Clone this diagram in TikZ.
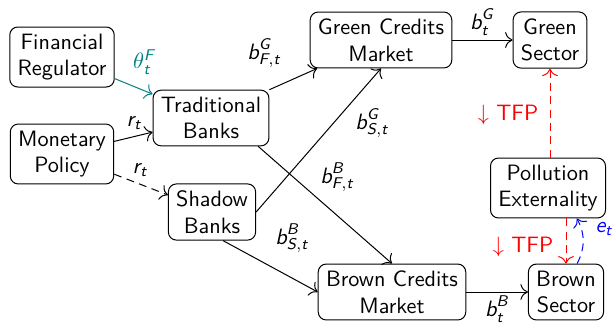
\documentclass[tikz,border=0pt]{standalone}
\usepackage{amsmath}
\usetikzlibrary{arrows.meta}
% sans-serif italic symbols for the flow labels
\newcommand{\sv}[1]{\textsf{\itshape #1}}
\begin{document}
\begin{tikzpicture}[x=0.45pt,y=-0.45pt,
  font=\sffamily,
  box/.style={draw, rounded corners=3.6pt, align=center, inner xsep=3.5pt, inner ysep=3pt, line width=0.45pt},
  arr/.style={line width=0.45pt, -{To[scale=1.3]}},
  dsh/.style={dash pattern=on 3.5pt off 2.5pt},
  lbl/.style={inner sep=0pt}]
\useasboundingbox (0,0) rectangle (613,323);

% actors and markets
\node[box] (FR)  at (62,57)   {Financial\\Regulator};
\node[box] (MP)  at (62,154)  {Monetary\\Policy};
\node[box] (TB)  at (211,118) {Traditional\\Banks};
\node[box] (SB)  at (212,212) {Shadow\\Banks};
\node[box] (GCM) at (381,40)  {Green Credits\\Market};
\node[box] (GS)  at (550,40)  {Green\\Sector};
\node[box] (PE)  at (548,188) {Pollution\\Externality};
\node[box] (BCM) at (392,292) {Brown Credits\\Market};
\node[box] (BS)  at (566,292) {Brown\\Sector};

% policy channels
\draw[arr, teal] (FR) -- (TB);
\draw[arr] (MP) -- (TB);
\draw[arr, dsh] (MP) -- (SB);

% credit flows
\draw[arr] (TB.north east) -- (GCM.204);
\draw[arr] (TB.-31) -- (BCM.north);
\draw[arr] (SB.east) -- (GCM.south);
\draw[arr] (SB.-69) -- (BCM.west);
\draw[arr] (GCM) -- (GS);
\draw[arr] (BCM) -- (BS);

% productivity effects of pollution
\draw[arr, red, dsh] (PE.north -| GS.south) -- (GS.south);
\draw[arr, red, dsh] (PE.south -| BS.north) -- (BS.north);
\draw[arr, blue, dsh] ([xshift=5pt]BS.north) to[bend right=28] ([xshift=13pt]PE.south);

% labels
\node[lbl, text=teal] (lTh) at (144,62) {$\theta^{\sv{F}}_{\sv{t}}$};
\node[lbl] (lr1) at (134,123) {$\sv{r}_{\sv{t}}$};
\node[lbl] (lr2) at (140,170) {$\sv{r}_{\sv{t}}$};
\node[lbl] (lGF) at (264,53)  {$\sv{b}^{\sv{G}}_{\sv{F},\sv{t}}$};
\node[lbl] (lGS) at (372,123) {$\sv{b}^{\sv{G}}_{\sv{S},\sv{t}}$};
\node[lbl] (lBF) at (337,177) {$\sv{b}^{\sv{B}}_{\sv{F},\sv{t}}$};
\node[lbl] (lBS) at (292,238) {$\sv{b}^{\sv{B}}_{\sv{S},\sv{t}}$};
\node[lbl] (lG)  at (482,22)  {$\sv{b}^{\sv{G}}_{\sv{t}}$};
\node[lbl] (lB)  at (497,309) {$\sv{b}^{\sv{B}}_{\sv{t}}$};
\node[lbl, text=blue] (le) at (604,229) {$\sv{e}_{\sv{t}}$};
\node[lbl, text=red] (lT1) at (508,115) {$\downarrow$ TFP};
\node[lbl, text=red] (lT2) at (523,247) {$\downarrow$ TFP};
\end{tikzpicture}
\end{document}
